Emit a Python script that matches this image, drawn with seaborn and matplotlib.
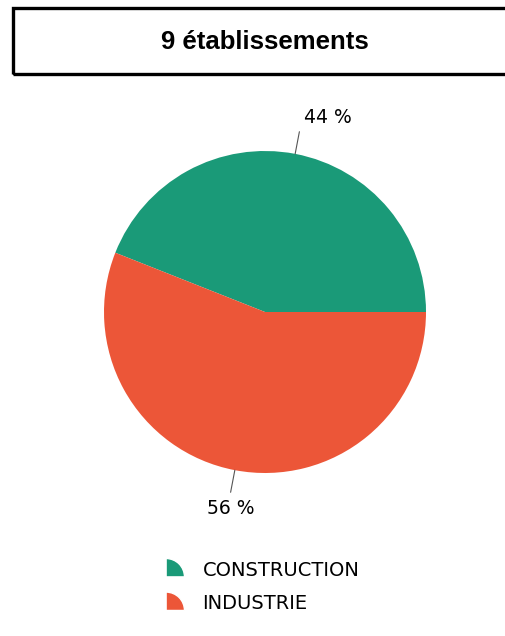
import matplotlib
matplotlib.use("Agg")
import matplotlib.pyplot as plt
import seaborn as sns
import numpy as np
from matplotlib.patches import Rectangle, Wedge
from matplotlib.legend_handler import HandlerPatch

sns.set_theme(style="white")
plt.rcParams['font.family'] = ['DejaVu Sans']

title = "9 établissements"
categories = ["CONSTRUCTION", "INDUSTRIE"]
values = [44, 56]
labels = ["44 %", "56 %"]
colors = ["#1a9a78", "#ec5638"]

fig = plt.figure(figsize=(5.06, 6.36), dpi=100)
W, H = 506, 636

# title box
fig.patches.append(Rectangle((13 / W, 1 - 74 / H), (506 - 13 + 5) / W, 66 / H,
                             transform=fig.transFigure, fill=False,
                             edgecolor="black", linewidth=2.4, clip_on=False))
fig.text(265 / W, 1 - 42 / H, title, ha="center", va="center", color="black",
         fontsize=18.5, fontweight="bold", family=["Liberation Sans", "DejaVu Sans"])

# pie axes: center (265,312), radius 161
r = 161
ax = fig.add_axes([(265 - r) / W, 1 - (312 + r) / H, 2 * r / W, 2 * r / H])
wedges, _ = ax.pie(values, colors=colors, startangle=0, counterclock=True,
                   wedgeprops=dict(linewidth=0))
ax.set_aspect("equal")
ax.set_xlim(-1, 1)
ax.set_ylim(-1, 1)
ax.axis("off")

label_pos = [(0.39, 1.205), (-0.21, -1.22)]
for i, w in enumerate(wedges):
    mid = np.deg2rad((w.theta1 + w.theta2) / 2)
    x0, y0 = np.cos(mid), np.sin(mid)
    x1, y1 = 1.14 * x0, 1.14 * y0
    ax.plot([x0, x1], [y0, y1], color="#555555", lw=0.8, clip_on=False)
    ax.text(label_pos[i][0], label_pos[i][1], labels[i], ha="center",
            va="center", fontsize=13.5, color="black")


class WedgeHandler(HandlerPatch):
    def create_artists(self, legend, orig_handle, xdescent, ydescent, width,
                       height, fontsize, trans):
        p = Wedge((xdescent - 1, ydescent - 1), height * 1.35, 0, 90,
                  facecolor=orig_handle.get_facecolor(), transform=trans)
        return [p]


handles = [Rectangle((0, 0), 1, 1, facecolor=c) for c in colors]
leg = fig.legend(handles, categories, loc="upper left",
                 bbox_to_anchor=(150 / W, 1 - 543 / H), frameon=False,
                 handler_map={Rectangle: WedgeHandler()}, fontsize=14,
                 handlelength=1.1, handletextpad=0.7, labelspacing=0.75)
for t in leg.get_texts():
    t.set_color("black")

fig.savefig("out.png", dpi=100, facecolor="white")
